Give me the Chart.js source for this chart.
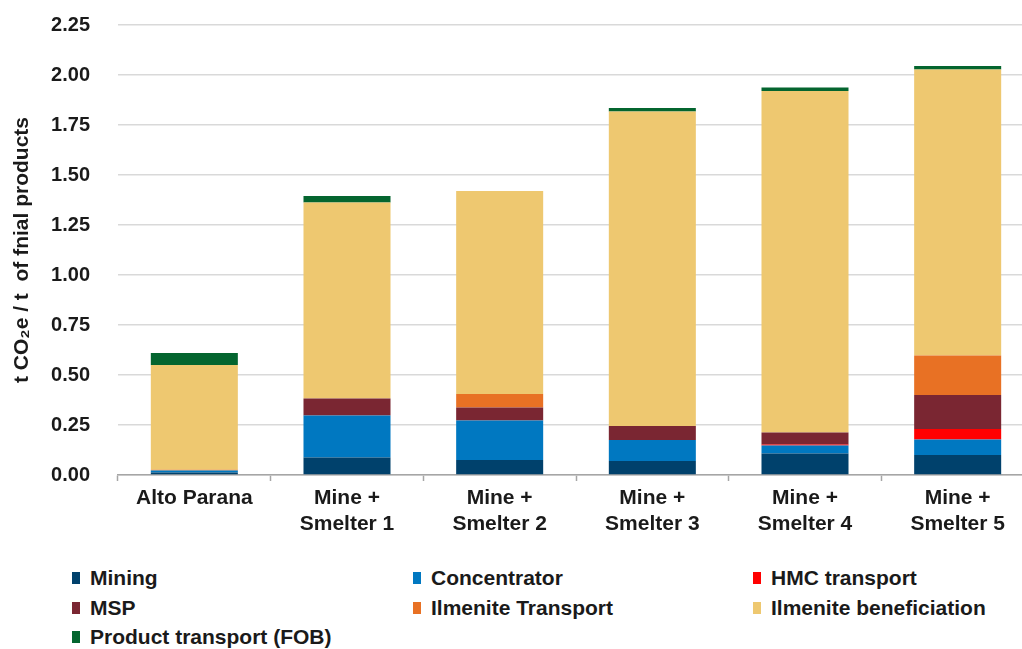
<!DOCTYPE html>
<html>
<head>
<meta charset="utf-8">
<script src="https://cdn.jsdelivr.net/npm/chart.js@4"></script>
<style>
  html, body { margin: 0; padding: 0; background: #fff; overflow: hidden; }
  #wrap { position: relative; width: 1040px; height: 560px; margin-top: -15px; }
  #legend {
    position: absolute; left: 0; top: 566px; width: 1022px;
    font: bold 21px "Liberation Sans", Arial, sans-serif; color: #1a1a1a;
  }
  .item { position: absolute; display: flex; align-items: center; white-space: nowrap; }
  .box { width: 8px; height: 12px; margin-right: 10px; }
</style>
</head>
<body>
<div id="wrap"><canvas id="chart"></canvas></div>
<div id="legend"></div>
<script>
const categories = ["Alto Parana", ["Mine +", "Smelter 1"], ["Mine +", "Smelter 2"], ["Mine +", "Smelter 3"], ["Mine +", "Smelter 4"], ["Mine +", "Smelter 5"]];
const yTicks = [0, 0.25, 0.5, 0.75, 1, 1.25, 1.5, 1.75, 2, 2.25];

const mining = [0.012, 0.087, 0.075, 0.07, 0.107, 0.1];
const concentrator = [0.01, 0.21, 0.197, 0.105, 0.041, 0.077];
const hmcTransport = [0, 0, 0, 0, 0.005, 0.053];
const msp = [0, 0.086, 0.066, 0.07, 0.06, 0.17];
const ilmeniteTransport = [0.004, 0, 0.067, 0, 0, 0.197];
const ilmeniteBeneficiation = [0.524, 0.979, 1.015, 1.573, 1.707, 1.431];
const productTransport = [0.06, 0.033, 0, 0.017, 0.017, 0.017];

const FONT = "'Liberation Sans', Arial, sans-serif";

// stacked bottom to top, legend reads in this order too
const series = [
  { label: "Mining", data: mining, color: "#00416c" },
  { label: "Concentrator", data: concentrator, color: "#0078c1" },
  { label: "HMC transport", data: hmcTransport, color: "#ff0000" },
  { label: "MSP", data: msp, color: "#7a2632" },
  { label: "Ilmenite Transport", data: ilmeniteTransport, color: "#e87124" },
  { label: "Ilmenite beneficiation", data: ilmeniteBeneficiation, color: "#eec870" },
  { label: "Product transport (FOB)", data: productTransport, color: "#04652f" },
];

const canvas = document.getElementById("chart");
const chart = new Chart(canvas.getContext("2d"), {
  type: "bar",
  data: {
    labels: categories,
    datasets: series.map((s) => ({
      label: s.label,
      data: s.data,
      backgroundColor: s.color,
      borderWidth: 0,
      categoryPercentage: 1,
      barPercentage: 0.57,
    })),
  },
  options: {
    responsive: true,
    maintainAspectRatio: false,
    animation: false,
    layout: { padding: { top: 10, right: 6, left: 0, bottom: 0 } },
    plugins: {
      legend: { display: false },
      tooltip: { enabled: false },
    },
    scales: {
      x: {
        stacked: true,
        afterFit: (scale) => { scale.height = 70; },
        grid: {
          offset: true,
          drawOnChartArea: false,
          drawTicks: true,
          tickLength: 6,
          tickColor: "#a6a6a6",
          tickWidth: 1.5,
        },
        border: { color: "#a6a6a6", width: 1.5 },
        ticks: {
          color: "#1a1a1a",
          padding: 5,
          maxRotation: 0,
          autoSkip: false,
          font: { family: FONT, size: 21, weight: "bold", lineHeight: 1.2 },
        },
      },
      y: {
        stacked: true,
        min: 0,
        max: 2.25,
        afterFit: (scale) => { scale.width = 118; },
        afterBuildTicks: (scale) => { scale.ticks = yTicks.map((v) => ({ value: v })); },
        grid: { color: "#d9d9d9", lineWidth: 1.5, drawTicks: false },
        border: { display: false },
        ticks: {
          color: "#1a1a1a",
          padding: 28,
          callback: (v) => Number(v).toFixed(2),
          font: { family: FONT, size: 20, weight: "bold" },
        },
        title: {
          display: true,
          text: "t CO\u2082e / t  of fnial products",
          color: "#1a1a1a",
          padding: { top: 10, bottom: 0 },
          font: { family: FONT, size: 21, weight: "bold" },
        },
      },
    },
  },
});

// legend in three columns like the original
const legend = document.getElementById("legend");
const colX = [72, 413, 753];
const rowY = [0, 30, 59];
chart.data.datasets.forEach((ds, i) => {
  const item = document.createElement("div");
  item.className = "item";
  item.style.left = colX[i % 3] + "px";
  item.style.top = rowY[Math.floor(i / 3)] + "px";
  item.innerHTML = `<span class="box" style="background:${ds.backgroundColor}"></span>${ds.label}`;
  legend.appendChild(item);
});
</script>
</body>
</html>
